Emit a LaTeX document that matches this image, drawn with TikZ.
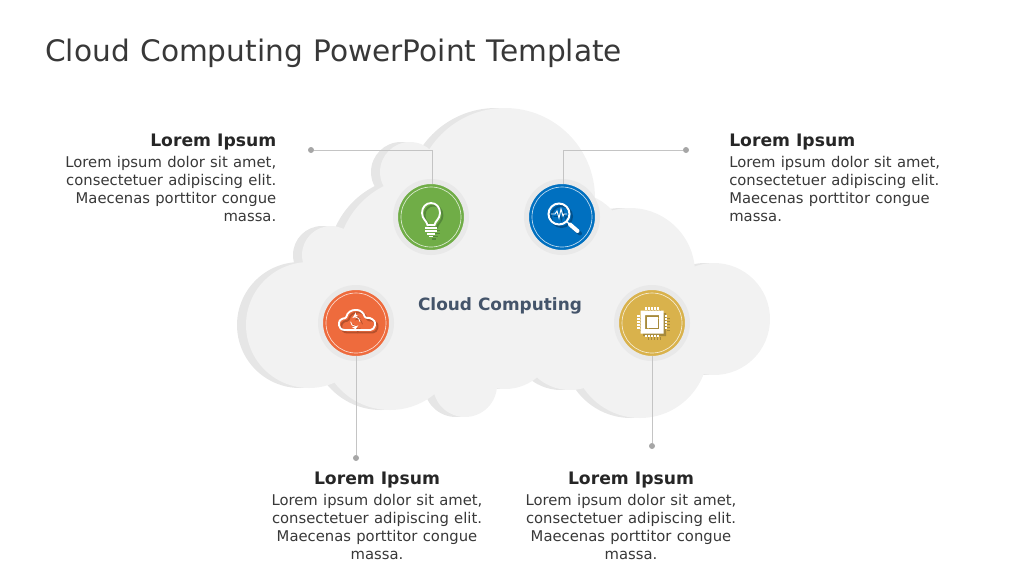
\documentclass[tikz,border=0pt]{standalone}
\usepackage{fontspec}
\setmainfont{DejaVu Sans}
\newfontfamily\titlefont[WordSpace=1.25]{DejaVu Sans}
\newfontfamily\bodyfont[WordSpace=1.12]{DejaVu Sans}
\usepackage{tikz}
\usetikzlibrary{arrows}
\tikzset{>=latex'}
\definecolor{cloudfront}{HTML}{F2F2F2}
\definecolor{cloudback}{HTML}{E6E6E6}
\definecolor{halo}{HTML}{E9E9E9}
\definecolor{wire}{HTML}{C4C4C4}
\definecolor{wiredot}{HTML}{A6A6A6}
\definecolor{titlegray}{HTML}{383838}
\definecolor{headgray}{HTML}{262626}
\definecolor{slate}{HTML}{44546A}
\definecolor{leaf}{HTML}{70AD47}
\definecolor{leafdark}{HTML}{55883A}
\definecolor{ocean}{HTML}{0070C0}
\definecolor{oceandark}{HTML}{00508C}
\definecolor{ember}{HTML}{EE6B3D}
\definecolor{emberdark}{HTML}{B5502C}
\definecolor{honey}{HTML}{D9B24C}
\definecolor{honeydark}{HTML}{A68A3C}
\newcommand{\cloudpath}{
	(505,198) circle [radius=90] (410,172) circle [radius=30]
	(422,262) circle [radius=85] (331,255) circle [radius=29]
	(309,325) circle [radius=63] (390,340) circle [radius=70]
	(465,385) circle [radius=32] (505,339) circle [radius=50]
	(570,340) circle [radius=50] (640,350) circle [radius=68]
	(714,319) circle [radius=56] (630,273) circle [radius=65]
	(570,250) circle [radius=58] (525,300) circle [radius=60]
}
\tikzset{
	badge/.style={circle,fill=#1,draw=halo,line width=3.75pt,minimum size=53.25pt,inner sep=0pt,outer sep=0pt},
	wiredotnode/.style={circle,fill=wiredot,minimum size=4.5pt,inner sep=0pt},
	wireline/.style={draw=wire,line width=0.7pt,shorten >=-1.9pt},
	headtext/.style={font=\fontsize{12.9pt}{13.5pt}\selectfont\bfseries,text=headgray,inner sep=0pt},
	bodytext/.style={font=\bodyfont\fontsize{11.1pt}{13.5pt}\selectfont,text=titlegray,inner sep=0pt},
	bulbicon/.pic={
		\draw[line width=1.4pt] (-3.5,8) .. controls (-4,4) and (-9,2) .. (-9,-4) .. controls (-9,-10) and (-5,-14) .. (0,-14) .. controls (5,-14) and (9,-10) .. (9,-4) .. controls (9,2) and (4,4) .. (3.5,8) -- cycle;
		\draw[line width=1.3pt] (-6,11) -- (6,11) (-6,14) -- (6,14) (-4,17) -- (4,17) (-2,19.5) -- (2,19.5);
	},
	lensicon/.pic={
		\draw[line width=1.5pt] (-3,-3) circle [radius=10.5];
		\draw[line width=0.7pt] (-11,-3) -- (-7,-3) -- (-5,-6) -- (-3,1) -- (-1,-8) -- (1,-1) -- (2,-3) -- (5,-3);
		\draw[line width=1pt] (4.5,4.5) -- (8,7.5);
		\draw[line width=3pt,line cap=round] (8,7.5) -- (15.5,14);
	},
	cloudicon/.pic={
		\draw[line width=1.4pt,rounded corners=1pt] (-10,7) .. controls (-15,7) and (-17,4) .. (-17,1) .. controls (-17,-3) and (-13,-5) .. (-10,-4.5) .. controls (-9,-11) and (-4,-13) .. (0,-13) .. controls (4,-13) and (8,-10) .. (9,-5) .. controls (15,-6) and (19,-2) .. (19,1) .. controls (19,5) and (16,7) .. (13,7) -- cycle;
		\draw[->,line width=0.6pt] (4,-1.3) arc [start angle=0,end angle=-130,radius=4.7];
		\draw[->,line width=0.6pt] (-5.4,-1.3) arc [start angle=180,end angle=50,radius=4.7];
	},
	chipicon/.pic={
		\fill[even odd rule] (-11.5,-12.5) rectangle (11.5,10.5) (-7,-8) rectangle (7,6);
		\fill (-5.5,-6.5) rectangle (5.5,4.5);
		\foreach \pin in {-6,-3,0,3,6}{
			\draw[line width=1.1pt] (\pin,-16) -- (\pin,-13.5) (\pin,11.5) -- (\pin,14);
			\draw[line width=1.1pt] (-15,\pin-1) -- (-12.5,\pin-1) (12.5,\pin-1) -- (15,\pin-1);
		}
	},
}
\begin{document}
\begin{tikzpicture}[x=0.75pt,y=-0.75pt]
	\useasboundingbox (0,0) rectangle (1024,576);
	% cloud
	\fill[cloudback,xshift=-6.75pt] \cloudpath;
	\fill[cloudfront] \cloudpath;
	\node[anchor=west,inner sep=0pt,text=titlegray,font=\titlefont\fontsize{22.2pt}{25pt}\selectfont] (title) at (45,53) {Cloud Computing PowerPoint Template};
	\node[font=\fontsize{12.7pt}{15pt}\selectfont\bfseries,text=slate,inner sep=0pt] (center) at (500,306) {Cloud Computing};
	% badges
	\node[badge=leaf] (greenring) at (431,217) {};
	\node[badge=ocean] (bluering) at (562,217) {};
	\node[badge=ember] (orangering) at (356,323) {};
	\node[badge=honey] (goldring) at (652,323) {};
	\draw[white,opacity=0.75,line width=0.5pt] (greenring) circle [radius=30] (bluering) circle [radius=30] (orangering) circle [radius=30] (goldring) circle [radius=30];
	% icons
	\pic[color=leafdark] at ([shift={(2.5,2.5)}]greenring) {bulbicon};
	\pic[color=white] at (greenring) {bulbicon};
	\pic[color=oceandark] at ([shift={(2.5,2.5)}]bluering) {lensicon};
	\pic[color=white] at (bluering) {lensicon};
	\pic[color=emberdark] at ([shift={(2.5,2.5)}]orangering) {cloudicon};
	\pic[color=white] at (orangering) {cloudicon};
	\pic[color=honeydark] at ([shift={(2.5,2.5)}]goldring) {chipicon};
	\pic[color=white] at (goldring) {chipicon};
	% connectors
	\node[wiredotnode] (greendot) at (311,150) {};
	\node[wiredotnode] (bluedot) at (686,150) {};
	\node[wiredotnode] (orangedot) at (356,458) {};
	\node[wiredotnode] (golddot) at (652,446) {};
	\draw[wireline] (greendot) -| (greenring.88);
	\draw[wireline] (bluedot) -| (bluering.87);
	\draw[wireline] (orangedot) -- (orangering.south);
	\draw[wireline] (golddot) -- (goldring.south);
	% captions
	\node[headtext,anchor=east] (greenhead) at (276.5,142) {Lorem Ipsum};
	\node[bodytext,align=right,anchor=north east] (greenbody) at (276.5,155.5) {Lorem ipsum dolor sit amet,\\consectetuer adipiscing elit.\\Maecenas porttitor congue\\massa.};
	\node[headtext,anchor=west] (bluehead) at (729,142) {Lorem Ipsum};
	\node[bodytext,align=left,anchor=north west] (bluebody) at (729,155.5) {Lorem ipsum dolor sit amet,\\consectetuer adipiscing elit.\\Maecenas porttitor congue\\massa.};
	\node[headtext] (orangehead) at (377,480) {Lorem Ipsum};
	\node[bodytext,align=center,anchor=north] (orangebody) at (377,493.5) {Lorem ipsum dolor sit amet,\\consectetuer adipiscing elit.\\Maecenas porttitor congue\\massa.};
	\node[headtext] (goldhead) at (631,480) {Lorem Ipsum};
	\node[bodytext,align=center,anchor=north] (goldbody) at (631,493.5) {Lorem ipsum dolor sit amet,\\consectetuer adipiscing elit.\\Maecenas porttitor congue\\massa.};
\end{tikzpicture}
\end{document}
